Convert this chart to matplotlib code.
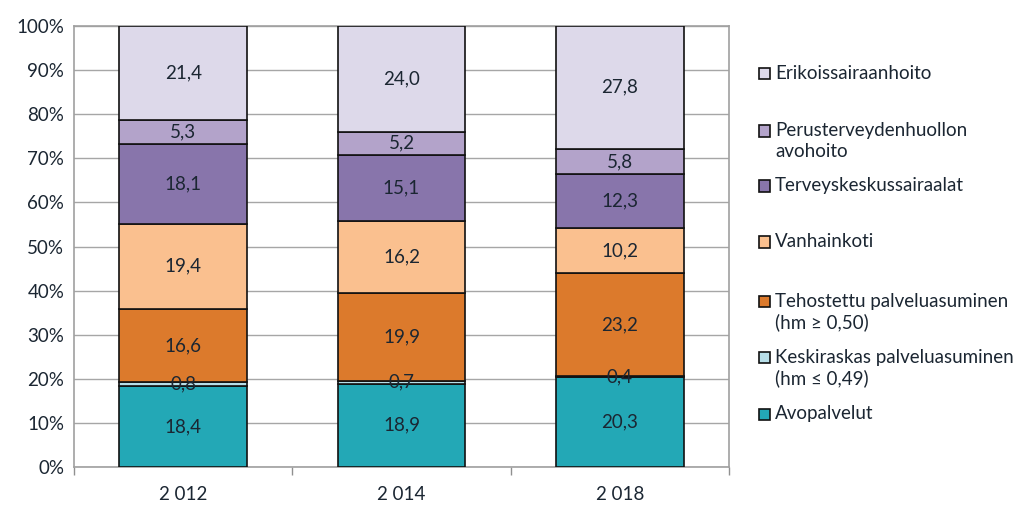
import matplotlib.pyplot as plt
from matplotlib.patches import Rectangle
import numpy as np

years = ['2 012', '2 014', '2 018']
series = ['Avopalvelut',
          'Keskiraskas palveluasuminen\n(hm ≤ 0,49)',
          'Tehostettu palveluasuminen\n(hm ≥ 0,50)',
          'Vanhainkoti',
          'Terveyskeskussairaalat',
          'Perusterveydenhuollon\navohoito',
          'Erikoissairaanhoito']
avopalvelut = [18.4, 18.9, 20.3]
keskiraskas = [0.8, 0.7, 0.4]
tehostettu = [16.6, 19.9, 23.2]
vanhainkoti = [19.4, 16.2, 10.2]
terveyskeskus = [18.1, 15.1, 12.3]
perusterveys = [5.3, 5.2, 5.8]
erikois = [21.4, 24.0, 27.8]
colors = ['#23A8B6', '#B7DEE8', '#DC7A2C', '#FAC08F', '#8875AB', '#B3A3CA', '#DDD9EA']

data = [avopalvelut, keskiraskas, tehostettu, vanhainkoti, terveyskeskus, perusterveys, erikois]

plt.rcParams['font.family'] = ['Lato', 'DejaVu Sans']
txtc = '#1B2632'
fs = 13.5

fig = plt.figure(figsize=(10.24, 5.14), dpi=100)
ax = fig.add_axes([74/1024, 47/514, 655/1024, 441/514])

x = np.arange(len(years))
bottom = np.zeros(len(years))
for vals, col in zip(data, colors):
    v = np.array(vals)
    ax.bar(x, v, 0.586, bottom=bottom, color=col, edgecolor='#111111', linewidth=1.2, zorder=3)
    for xi, b, val in zip(x, bottom, v):
        ax.text(xi, b + val / 2, ('%.1f' % val).replace('.', ','), ha='center', va='center',
                fontsize=fs, color=txtc, zorder=4)
    bottom += v

ax.set_xlim(-0.5, 2.5)
ax.set_ylim(0, 100)
ax.set_yticks(np.arange(0, 101, 10))
ax.set_yticklabels(['%d%%' % t for t in range(0, 101, 10)], fontsize=fs, color=txtc)
ax.set_xticks(x)
ax.set_xticklabels(years, fontsize=fs, color=txtc)
ax.set_xticks([-0.5, 0.5, 1.5, 2.5], minor=True)
ax.tick_params(axis='x', which='major', length=0, pad=14)
ax.tick_params(axis='x', which='minor', length=6, color='#909090', width=1)
ax.tick_params(axis='y', length=0, pad=7)
ax.grid(axis='y', color='#A6A6A6', linewidth=1, zorder=0)
for s in ax.spines.values():
    s.set_color('#A0A0A0')
    s.set_linewidth(1.2)

# legend, entries placed in fixed slots like the original
tops = [74, 131, 186, 242, 301, 357, 414]
for name, col, ty in zip(series[::-1], colors[::-1], tops):
    fy = 1 - ty / 514
    fig.patches.append(Rectangle((759/1024, fy - 5.5/514), 11/1024, 11/514,
                                 transform=fig.transFigure, facecolor=col,
                                 edgecolor='#111111', linewidth=1.2))
    fig.text(775/1024, fy + 8.5/514, name, ha='left', va='top', fontsize=fs,
             color=txtc, linespacing=1.22)

fig.savefig('out.png', dpi=100)
